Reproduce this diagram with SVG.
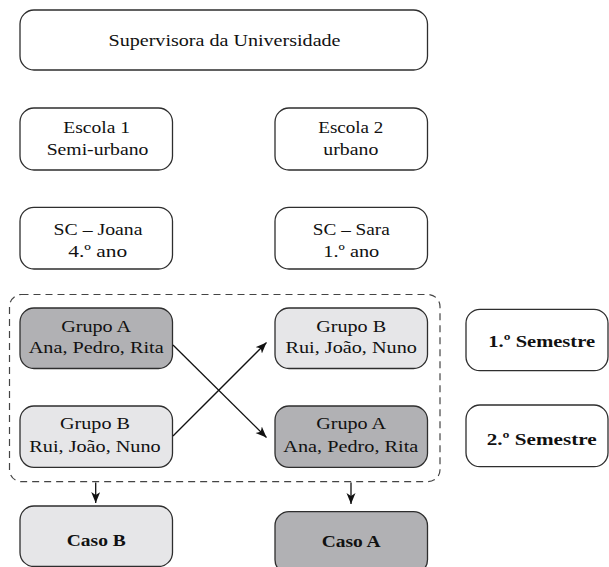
<svg xmlns="http://www.w3.org/2000/svg" width="609" height="567" viewBox="0 0 609 567">
<style>
.box{fill:#ffffff;stroke:#2e2e2e;stroke-width:1.3}
.dark{fill:#b1b1b4}
.light{fill:#e6e6e8}
.t{font-family:"Liberation Serif","Times New Roman",serif;font-size:17px;fill:#111;text-anchor:middle}
.b{font-weight:bold}
.ln{stroke:#111;stroke-width:1.3;fill:none}
.dash{fill:none;stroke:#444;stroke-width:1.2;stroke-dasharray:7,5}
</style>
<defs>
<marker id="ah" markerUnits="userSpaceOnUse" markerWidth="13" markerHeight="11" refX="11" refY="4.5" orient="auto">
<path d="M0,0 L11,4.5 L0,9 L3,4.5 z" fill="#111"/>
</marker>
</defs>
<g id="supervisora"><rect class="box" x="20" y="10" width="407.5" height="60" rx="14"/><text class="t" x="224.5" y="45.5" textLength="232" lengthAdjust="spacingAndGlyphs">Supervisora da Universidade</text></g>
<g id="escola1"><rect class="box" x="20" y="108" width="152.5" height="62" rx="14"/><text class="t" x="96.7" y="133.3" textLength="66.7" lengthAdjust="spacingAndGlyphs">Escola 1</text><text class="t" x="97.5" y="155" textLength="101.7" lengthAdjust="spacingAndGlyphs">Semi-urbano</text></g>
<g id="escola2"><rect class="box" x="275" y="108" width="152.5" height="62" rx="14"/><text class="t" x="350.8" y="133.3" textLength="65" lengthAdjust="spacingAndGlyphs">Escola 2</text><text class="t" x="350.8" y="155" textLength="55" lengthAdjust="spacingAndGlyphs">urbano</text></g>
<g id="sc-joana"><rect class="box" x="20" y="207.3" width="152.5" height="61.7" rx="14"/><text class="t" x="98" y="235" textLength="89" lengthAdjust="spacingAndGlyphs">SC – Joana</text><text class="t" x="97.8" y="256.7" textLength="59" lengthAdjust="spacingAndGlyphs">4.º ano</text></g>
<g id="sc-sara"><rect class="box" x="275" y="207.3" width="152.5" height="61.7" rx="14"/><text class="t" x="351.3" y="235" textLength="77" lengthAdjust="spacingAndGlyphs">SC – Sara</text><text class="t" x="351.3" y="256.7" textLength="56" lengthAdjust="spacingAndGlyphs">1.º ano</text></g>
<g id="periodo"><rect class="dash" x="9.5" y="294.5" width="430.5" height="187.2" rx="12"/></g>
<g id="grupoA1"><rect class="box dark" x="20" y="308" width="152.5" height="60.5" rx="14"/><text class="t" x="96.2" y="331.7" textLength="70" lengthAdjust="spacingAndGlyphs">Grupo A</text><text class="t" x="96.2" y="353.3" textLength="135" lengthAdjust="spacingAndGlyphs">Ana, Pedro, Rita</text></g>
<g id="grupoB1"><rect class="box light" x="275" y="308" width="152.5" height="60.5" rx="14"/><text class="t" x="351.2" y="331.7" textLength="70" lengthAdjust="spacingAndGlyphs">Grupo B</text><text class="t" x="351.2" y="353.3" textLength="131.3" lengthAdjust="spacingAndGlyphs">Rui, João, Nuno</text></g>
<g id="semestre1"><rect class="box" x="466" y="309.3" width="142" height="61.4" rx="14"/><text class="t b" x="541.7" y="346.7" textLength="106.7" lengthAdjust="spacingAndGlyphs">1.º Semestre</text></g>
<g id="grupoB2"><rect class="box light" x="20" y="406" width="152.5" height="61.3" rx="14"/><text class="t" x="95" y="429.3" textLength="70" lengthAdjust="spacingAndGlyphs">Grupo B</text><text class="t" x="95" y="451.7" textLength="131.3" lengthAdjust="spacingAndGlyphs">Rui, João, Nuno</text></g>
<g id="grupoA2"><rect class="box dark" x="275" y="406" width="152.5" height="61.3" rx="14"/><text class="t" x="351.2" y="429.3" textLength="70" lengthAdjust="spacingAndGlyphs">Grupo A</text><text class="t" x="350.8" y="451.7" textLength="135" lengthAdjust="spacingAndGlyphs">Ana, Pedro, Rita</text></g>
<g id="semestre2"><rect class="box" x="466" y="405" width="142" height="61.7" rx="14"/><text class="t b" x="541.7" y="445" textLength="110" lengthAdjust="spacingAndGlyphs">2.º Semestre</text></g>
<g id="casoB"><rect class="box light" x="20" y="506" width="152.5" height="60.5" rx="14"/><text class="t b" x="96.3" y="546" textLength="59" lengthAdjust="spacingAndGlyphs">Caso B</text></g>
<g id="casoA"><rect class="box dark" x="275" y="511.7" width="152.5" height="62" rx="14"/><text class="t b" x="351.2" y="546.7" textLength="59" lengthAdjust="spacingAndGlyphs">Caso A</text></g>
<g id="connectors">
<line class="ln" x1="173" y1="345" x2="266.5" y2="437.5" marker-end="url(#ah)"/>
<line class="ln" x1="173" y1="436" x2="266.5" y2="342.5" marker-end="url(#ah)"/>
<line class="ln" x1="95.7" y1="482.5" x2="95.7" y2="503" marker-end="url(#ah)"/>
<line class="ln" x1="351" y1="482.5" x2="351" y2="504" marker-end="url(#ah)"/>
</g>
</svg>
